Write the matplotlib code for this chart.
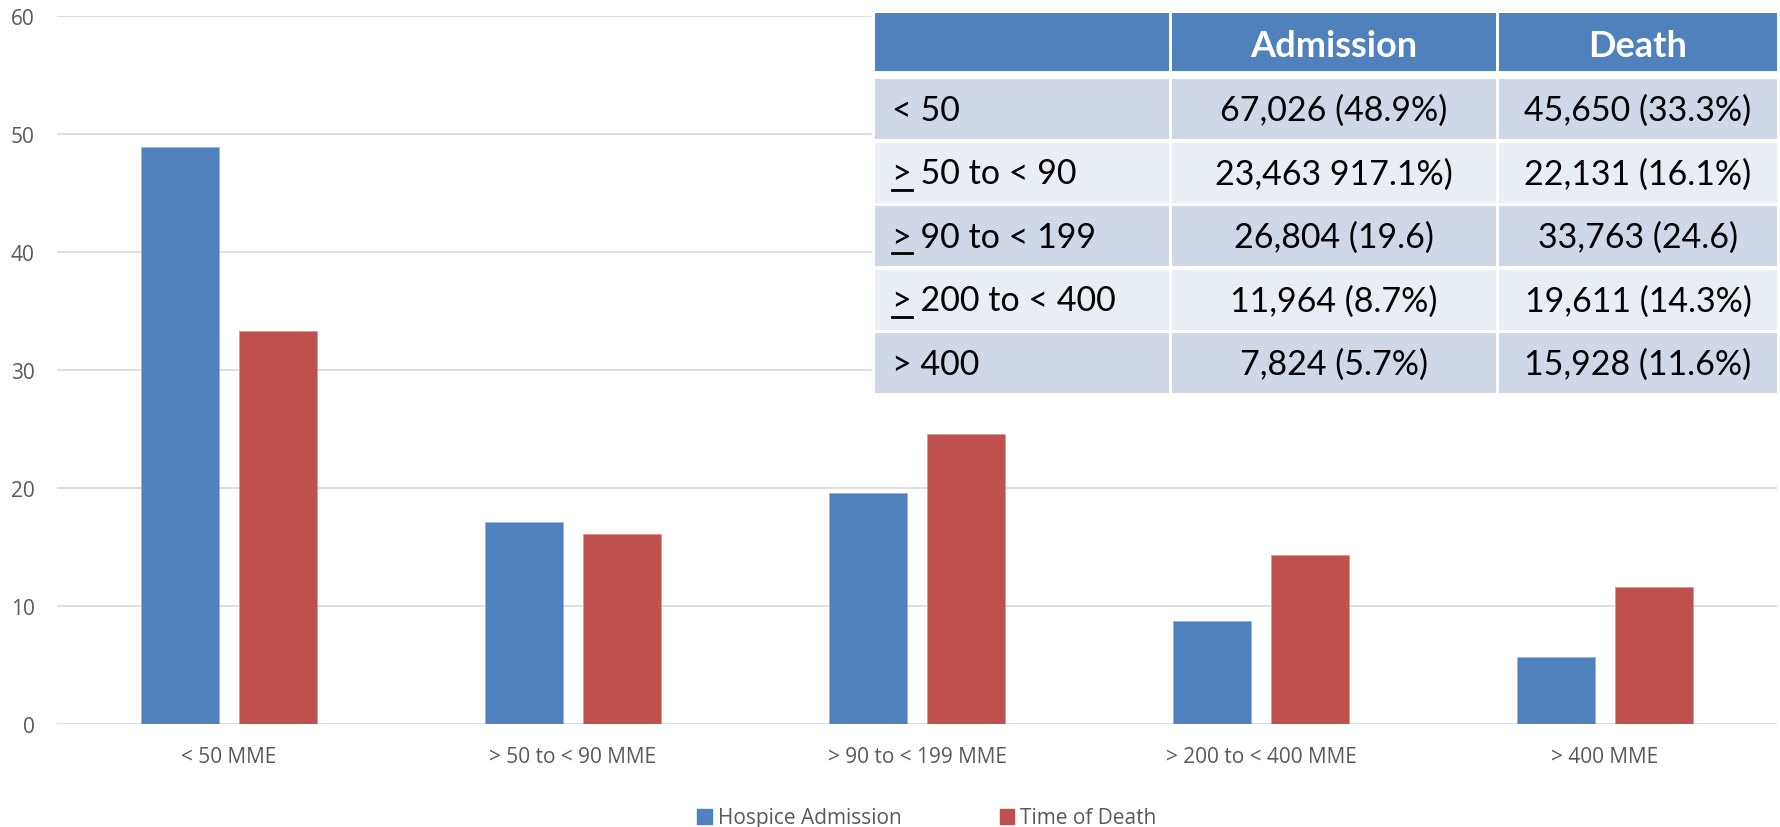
import numpy as np
import matplotlib
matplotlib.use("Agg")
import matplotlib.pyplot as plt
from matplotlib.patches import Rectangle, Patch

plt.rcParams['font.family'] = ['Open Sans', 'DejaVu Sans']

# Bar chart data (percent of patients in each MME group)
categories = ["< 50 MME", "> 50 to < 90 MME", "> 90 to < 199 MME",
              "> 200 to < 400 MME", "> 400 MME"]
hospice_admission = [48.9, 17.1, 19.6, 8.7, 5.7]
time_of_death = [33.3, 16.1, 24.6, 14.3, 11.6]
series_names = ["Hospice Admission", "Time of Death"]

# Inset table
table_header = ["", "Admission", "Death"]
row_labels = ["< 50", "> 50 to < 90", "> 90 to < 199", "> 200 to < 400", "> 400"]
row_ge = [False, True, True, True, False]   # leading ">" is underlined (>=)
admission_col = ["67,026 (48.9%)", "23,463 917.1%)", "26,804 (19.6)",
                 "11,964 (8.7%)", "7,824 (5.7%)"]
death_col = ["45,650 (33.3%)", "22,131 (16.1%)", "33,763 (24.6)",
             "19,611 (14.3%)", "15,928 (11.6%)"]

BLUE = "#4F81BD"
RED = "#C0504D"
GREY_TXT = "#595959"
W, H = 1781, 828

fig = plt.figure(figsize=(W / 100, H / 100), dpi=100)
ax = fig.add_axes([57 / W, 103 / H, 1720 / W, 708 / H])

x = np.arange(len(categories))
bw = 0.225
off = 0.142
ax.bar(x - off, hospice_admission, bw, color=BLUE, edgecolor="#9DB6D8", linewidth=0.6)
ax.bar(x + off, time_of_death, bw, color=RED, edgecolor="#D99795", linewidth=0.6)

ax.set_xlim(-0.5, len(categories) - 0.5)
ax.set_ylim(0, 60)
ax.set_yticks(np.arange(0, 61, 10))
ax.set_xticks(x)
ax.set_xticklabels(categories)
ax.yaxis.grid(True, color="#D9D9D9", linewidth=1.2)
ax.set_axisbelow(True)
for s in ax.spines.values():
    s.set_visible(False)
ax.tick_params(axis="both", length=0, labelsize=15, colors=GREY_TXT)
ax.tick_params(axis="y", pad=16)
ax.tick_params(axis="x", pad=15.5)

fig.legend([Patch(color=BLUE), Patch(color=RED)], series_names,
           loc="center", bbox_to_anchor=(927 / W, 9 / H), ncol=2, frameon=False,
           handlelength=0.7, handleheight=0.7, handletextpad=0.3,
           columnspacing=4.7, fontsize=15, labelcolor=GREY_TXT)

# table drawn on a pixel-coordinate overlay
tax = fig.add_axes([0, 0, 1, 1], zorder=5)
tax.set_xlim(0, W)
tax.set_ylim(H, 0)
tax.axis("off")

col_left = [875, 1172, 1499]
col_right = [1169, 1496, 1777]
tfont = dict(family=["Lato", "DejaVu Sans"], fontsize=24.5)

tax.add_patch(Rectangle((872, 11), W - 872, 388, color="white"))

# header row
for j in range(3):
    tax.add_patch(Rectangle((col_left[j], 14), col_right[j] - col_left[j], 58,
                            color=BLUE, linewidth=0))
    if table_header[j]:
        tax.text((col_left[j] + col_right[j]) / 2, 57, table_header[j],
                 ha="center", va="baseline", color="white", fontweight="bold",
                 family=["Lato", "DejaVu Sans"], fontsize=26)

renderer = fig.canvas.get_renderer()
for i in range(len(row_labels)):
    top = 80 + i * 63.5
    fill = "#D0D8E8" if i % 2 == 0 else "#E9EDF4"
    for j in range(3):
        tax.add_patch(Rectangle((col_left[j], top), col_right[j] - col_left[j], 60,
                                color=fill, linewidth=0))
    base = top + 41
    tax.text(892, base, row_labels[i], ha="left", va="baseline", color="black", **tfont)
    tax.text((col_left[1] + col_right[1]) / 2, base, admission_col[i],
             ha="center", va="baseline", color="black", **tfont)
    tax.text((col_left[2] + col_right[2]) / 2, base, death_col[i],
             ha="center", va="baseline", color="black", **tfont)
    if row_ge[i]:
        probe = tax.text(892, base, ">", ha="left", va="baseline", **tfont)
        bb = probe.get_window_extent(renderer)
        probe.remove()
        tax.plot([bb.x0, bb.x1], [base + 6, base + 6], color="black", linewidth=2)

fig.savefig("out.png", dpi=100)
